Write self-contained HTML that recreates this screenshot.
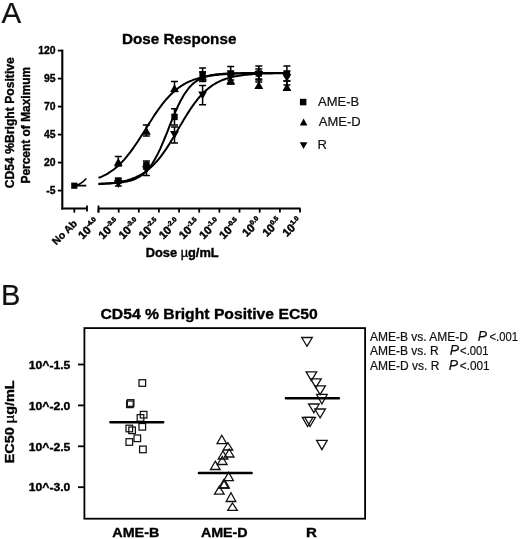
<!DOCTYPE html>
<html lang="en"><head><meta charset="utf-8"><title>Dose Response</title>
<style>html,body{margin:0;padding:0;background:#fff}body{width:520px;height:539px;overflow:hidden}svg text{font-family:"Liberation Sans",Arial,Helvetica,sans-serif}svg text{stroke:#111;stroke-width:.2px}svg text[font-weight=bold]{stroke:#000;stroke-width:.35px}</style>
</head><body>
<svg width="520" height="539" viewBox="0 0 520 539" style="display:block;filter:blur(0.45px)">
<rect width="520" height="539" fill="#fff"/>
<text x="1.5" y="23.2" font-size="29.5" fill="#111" stroke="#111" stroke-width="0.8">A</text>
<text x="0.9" y="305" font-size="29" fill="#111" stroke="#111" stroke-width="0.7">B</text>
<text x="122" y="44.2" font-size="15.5" font-weight="bold" textLength="114.4" lengthAdjust="spacingAndGlyphs">Dose Response</text>
<path d="M62.3 49.6V209.5" stroke="#000" stroke-width="2.1" fill="none"/>
<path d="M61.3 208.5H87M98 208.5H300.6" stroke="#000" stroke-width="2.1" fill="none"/>
<path d="M87 205.4V211.6M98.5 205.4V212.6" stroke="#000" stroke-width="1.8" fill="none"/>
<path d="M57.8 50.6H62" stroke="#000" stroke-width="1.8"/>
<text x="55.6" y="53.9" font-size="10.4" font-weight="bold" text-anchor="end">120</text>
<path d="M57.8 78.6H62" stroke="#000" stroke-width="1.8"/>
<text x="55.6" y="81.9" font-size="10.4" font-weight="bold" text-anchor="end">95</text>
<path d="M57.8 106.6H62" stroke="#000" stroke-width="1.8"/>
<text x="55.6" y="109.9" font-size="10.4" font-weight="bold" text-anchor="end">70</text>
<path d="M57.8 134.6H62" stroke="#000" stroke-width="1.8"/>
<text x="55.6" y="137.9" font-size="10.4" font-weight="bold" text-anchor="end">45</text>
<path d="M57.8 162.6H62" stroke="#000" stroke-width="1.8"/>
<text x="55.6" y="165.9" font-size="10.4" font-weight="bold" text-anchor="end">20</text>
<path d="M57.8 190.6H62" stroke="#000" stroke-width="1.8"/>
<text x="55.6" y="193.9" font-size="10.4" font-weight="bold" text-anchor="end">-5</text>
<path d="M74.3 208.5V212.6" stroke="#000" stroke-width="1.8"/>
<path d="M98.5 208.5V212.6" stroke="#000" stroke-width="1.8"/>
<text transform="translate(99.7,222.8) rotate(-45)" font-size="11.2" font-weight="bold" text-anchor="end" style="stroke-width:.5px">10<tspan font-size="6.6" dy="-4.6">-4.0</tspan></text>
<path d="M118.7 208.5V212.6" stroke="#000" stroke-width="1.8"/>
<text transform="translate(119.9,222.8) rotate(-45)" font-size="11.2" font-weight="bold" text-anchor="end" style="stroke-width:.5px">10<tspan font-size="6.6" dy="-4.6">-3.5</tspan></text>
<path d="M138.8 208.5V212.6" stroke="#000" stroke-width="1.8"/>
<text transform="translate(140.0,222.8) rotate(-45)" font-size="11.2" font-weight="bold" text-anchor="end" style="stroke-width:.5px">10<tspan font-size="6.6" dy="-4.6">-3.0</tspan></text>
<path d="M158.9 208.5V212.6" stroke="#000" stroke-width="1.8"/>
<text transform="translate(160.1,222.8) rotate(-45)" font-size="11.2" font-weight="bold" text-anchor="end" style="stroke-width:.5px">10<tspan font-size="6.6" dy="-4.6">-2.5</tspan></text>
<path d="M179.1 208.5V212.6" stroke="#000" stroke-width="1.8"/>
<text transform="translate(180.3,222.8) rotate(-45)" font-size="11.2" font-weight="bold" text-anchor="end" style="stroke-width:.5px">10<tspan font-size="6.6" dy="-4.6">-2.0</tspan></text>
<path d="M199.2 208.5V212.6" stroke="#000" stroke-width="1.8"/>
<text transform="translate(200.4,222.8) rotate(-45)" font-size="11.2" font-weight="bold" text-anchor="end" style="stroke-width:.5px">10<tspan font-size="6.6" dy="-4.6">-1.5</tspan></text>
<path d="M219.4 208.5V212.6" stroke="#000" stroke-width="1.8"/>
<text transform="translate(220.6,222.8) rotate(-45)" font-size="11.2" font-weight="bold" text-anchor="end" style="stroke-width:.5px">10<tspan font-size="6.6" dy="-4.6">-1.0</tspan></text>
<path d="M239.5 208.5V212.6" stroke="#000" stroke-width="1.8"/>
<text transform="translate(240.7,222.8) rotate(-45)" font-size="11.2" font-weight="bold" text-anchor="end" style="stroke-width:.5px">10<tspan font-size="6.6" dy="-4.6">-0.5</tspan></text>
<path d="M259.7 208.5V212.6" stroke="#000" stroke-width="1.8"/>
<text transform="translate(262.1,222.0) rotate(-45)" font-size="11.2" font-weight="bold" text-anchor="end" style="stroke-width:.5px">10<tspan font-size="6.6" dy="-4.6">0.0</tspan></text>
<path d="M279.9 208.5V212.6" stroke="#000" stroke-width="1.8"/>
<text transform="translate(282.2,222.0) rotate(-45)" font-size="11.2" font-weight="bold" text-anchor="end" style="stroke-width:.5px">10<tspan font-size="6.6" dy="-4.6">0.5</tspan></text>
<path d="M300.0 208.5V212.6" stroke="#000" stroke-width="1.8"/>
<text transform="translate(302.4,222.0) rotate(-45)" font-size="11.2" font-weight="bold" text-anchor="end" style="stroke-width:.5px">10<tspan font-size="6.6" dy="-4.6">1.0</tspan></text>
<text transform="translate(77.7,224.2) rotate(-45)" font-size="10.4" font-weight="bold" text-anchor="end">No Ab</text>
<text transform="translate(13.6,188.2) rotate(-90)" font-size="12" font-weight="bold" textLength="131" lengthAdjust="spacingAndGlyphs">CD54 %Bright Positive</text>
<text transform="translate(30.4,183.5) rotate(-90)" font-size="12" font-weight="bold" textLength="116.7" lengthAdjust="spacingAndGlyphs">Percent of Maximum</text>
<text x="145.7" y="257" font-size="12" font-weight="bold" textLength="73" lengthAdjust="spacingAndGlyphs">Dose <tspan font-weight="normal">µ</tspan>g/mL</text>
<polyline points="98.5,177.9 100.1,177.3 101.7,176.6 103.2,175.9 104.8,175.1 106.4,174.3 108.0,173.3 109.5,172.4 111.1,171.3 112.7,170.2 114.3,169.0 115.9,167.7 117.4,166.4 119.0,164.9 120.6,163.4 122.2,161.8 123.8,160.1 125.3,158.3 126.9,156.4 128.5,154.4 130.1,152.4 131.6,150.3 133.2,148.1 134.8,145.8 136.4,143.5 138.0,141.1 139.5,138.7 141.1,136.2 142.7,133.7 144.3,131.2 145.9,128.7 147.4,126.2 149.0,123.6 150.6,121.2 152.2,118.7 153.7,116.3 155.3,113.9 156.9,111.6 158.5,109.3 160.1,107.2 161.6,105.1 163.2,103.0 164.8,101.1 166.4,99.2 168.0,97.5 169.5,95.8 171.1,94.2 172.7,92.7 174.3,91.3 175.8,89.9 177.4,88.7 179.0,87.5 180.6,86.4 182.2,85.4 183.7,84.4 185.3,83.5 186.9,82.7 188.5,81.9 190.0,81.2 191.6,80.6 193.2,79.9 194.8,79.4 196.4,78.9 197.9,78.4 199.5,77.9 201.1,77.5 202.7,77.1 204.3,76.8 205.8,76.5 207.4,76.2 209.0,75.9 210.6,75.7 212.1,75.5 213.7,75.2 215.3,75.1 216.9,74.9 218.5,74.7 220.0,74.6 221.6,74.4 223.2,74.3 224.8,74.2 226.4,74.1 227.9,74.0 229.5,73.9 231.1,73.8 232.7,73.8 234.2,73.7 235.8,73.6 237.4,73.6 239.0,73.5 240.6,73.5 242.1,73.5 243.7,73.4 245.3,73.4 246.9,73.3 248.4,73.3 250.0,73.3 251.6,73.3 253.2,73.2 254.8,73.2 256.3,73.2 257.9,73.2 259.5,73.2 261.1,73.2 262.7,73.1 264.2,73.1 265.8,73.1 267.4,73.1 269.0,73.1 270.5,73.1 272.1,73.1 273.7,73.1 275.3,73.1 276.9,73.1 278.4,73.1 280.0,73.1 281.6,73.0 283.2,73.0 284.8,73.0 286.3,73.0 287.9,73.0" fill="none" stroke="#000" stroke-width="2" stroke-linejoin="round"/>
<polyline points="98.5,183.7 100.1,183.7 101.7,183.6 103.2,183.6 104.8,183.6 106.4,183.5 108.0,183.4 109.5,183.4 111.1,183.3 112.7,183.2 114.3,183.1 115.9,183.0 117.4,182.9 119.0,182.7 120.6,182.5 122.2,182.3 123.8,182.1 125.3,181.8 126.9,181.5 128.5,181.1 130.1,180.7 131.6,180.2 133.2,179.7 134.8,179.1 136.4,178.4 138.0,177.5 139.5,176.6 141.1,175.6 142.7,174.4 144.3,173.1 145.9,171.6 147.4,169.9 149.0,168.1 150.6,166.0 152.2,163.7 153.7,161.2 155.3,158.5 156.9,155.6 158.5,152.4 160.1,149.1 161.6,145.6 163.2,141.9 164.8,138.0 166.4,134.1 168.0,130.1 169.5,126.1 171.1,122.2 172.7,118.3 174.3,114.5 175.8,110.8 177.4,107.3 179.0,104.0 180.6,100.8 182.2,97.9 183.7,95.3 185.3,92.8 186.9,90.6 188.5,88.5 190.0,86.7 191.6,85.1 193.2,83.6 194.8,82.3 196.4,81.1 197.9,80.1 199.5,79.2 201.1,78.4 202.7,77.7 204.3,77.1 205.8,76.6 207.4,76.1 209.0,75.7 210.6,75.3 212.1,75.0 213.7,74.8 215.3,74.5 216.9,74.3 218.5,74.2 220.0,74.0 221.6,73.9 223.2,73.8 224.8,73.7 226.4,73.6 227.9,73.5 229.5,73.4 231.1,73.4 232.7,73.3 234.2,73.3 235.8,73.2 237.4,73.2 239.0,73.2 240.6,73.2 242.1,73.1 243.7,73.1 245.3,73.1 246.9,73.1 248.4,73.1 250.0,73.1 251.6,73.1 253.2,73.0 254.8,73.0 256.3,73.0 257.9,73.0 259.5,73.0 261.1,73.0 262.7,73.0 264.2,73.0 265.8,73.0 267.4,73.0 269.0,73.0 270.5,73.0 272.1,73.0 273.7,73.0 275.3,73.0 276.9,73.0 278.4,73.0 280.0,73.0 281.6,73.0 283.2,73.0 284.8,73.0 286.3,73.0 287.9,73.0" fill="none" stroke="#000" stroke-width="2" stroke-linejoin="round"/>
<polyline points="98.5,184.2 100.1,184.1 101.7,184.0 103.2,183.9 104.8,183.8 106.4,183.6 108.0,183.5 109.5,183.3 111.1,183.2 112.7,183.0 114.3,182.8 115.9,182.6 117.4,182.4 119.0,182.1 120.6,181.8 122.2,181.5 123.8,181.1 125.3,180.8 126.9,180.4 128.5,179.9 130.1,179.4 131.6,178.9 133.2,178.3 134.8,177.7 136.4,177.0 138.0,176.2 139.5,175.4 141.1,174.5 142.7,173.6 144.3,172.6 145.9,171.5 147.4,170.3 149.0,169.0 150.6,167.6 152.2,166.1 153.7,164.6 155.3,162.9 156.9,161.2 158.5,159.3 160.1,157.3 161.6,155.3 163.2,153.1 164.8,150.9 166.4,148.6 168.0,146.1 169.5,143.7 171.1,141.1 172.7,138.5 174.3,135.9 175.8,133.2 177.4,130.5 179.0,127.8 180.6,125.1 182.2,122.4 183.7,119.8 185.3,117.2 186.9,114.6 188.5,112.1 190.0,109.7 191.6,107.4 193.2,105.1 194.8,102.9 196.4,100.9 197.9,98.9 199.5,97.0 201.1,95.3 202.7,93.6 204.3,92.0 205.8,90.5 207.4,89.2 209.0,87.9 210.6,86.7 212.1,85.6 213.7,84.5 215.3,83.6 216.9,82.7 218.5,81.9 220.0,81.1 221.6,80.4 223.2,79.8 224.8,79.2 226.4,78.6 227.9,78.1 229.5,77.7 231.1,77.3 232.7,76.9 234.2,76.5 235.8,76.2 237.4,75.9 239.0,75.7 240.6,75.4 242.1,75.2 243.7,75.0 245.3,74.8 246.9,74.7 248.4,74.5 250.0,74.4 251.6,74.3 253.2,74.1 254.8,74.0 256.3,73.9 257.9,73.9 259.5,73.8 261.1,73.7 262.7,73.6 264.2,73.6 265.8,73.5 267.4,73.5 269.0,73.4 270.5,73.4 272.1,73.4 273.7,73.3 275.3,73.3 276.9,73.3 278.4,73.2 280.0,73.2 281.6,73.2 283.2,73.2 284.8,73.2 286.3,73.2 287.9,73.1" fill="none" stroke="#000" stroke-width="2" stroke-linejoin="round"/>
<path d="M74 185.6H86.3M74 185.8Q81 184.5 86.3 178.4" stroke="#000" stroke-width="1.6" fill="none"/>
<rect x="71.2" y="182.6" width="6.2" height="6.2" fill="#000"/>
<path d="M118.3 156.6V166.0M114.8 156.6h7.0M114.8 166.0h7.0" stroke="#000" stroke-width="1.5" fill="none"/>
<polygon points="118.3,157.9 122.7,165.7 113.9,165.7" fill="#000"/>
<path d="M146.4 125.0V136.0M142.9 125.0h7.0M142.9 136.0h7.0" stroke="#000" stroke-width="1.5" fill="none"/>
<polygon points="146.4,127.0 150.8,134.8 142.0,134.8" fill="#000"/>
<path d="M174.5 81.6V91.6M171.0 81.6h7.0M171.0 91.6h7.0" stroke="#000" stroke-width="1.5" fill="none"/>
<polygon points="174.5,84.3 178.9,92.1 170.1,92.1" fill="#000"/>
<path d="M202.6 72.0V81.0M199.1 72.0h7.0M199.1 81.0h7.0" stroke="#000" stroke-width="1.5" fill="none"/>
<polygon points="202.6,72.6 207.0,80.4 198.2,80.4" fill="#000"/>
<path d="M230.7 75.0V84.0M227.2 75.0h7.0M227.2 84.0h7.0" stroke="#000" stroke-width="1.5" fill="none"/>
<polygon points="230.7,76.6 235.1,84.4 226.3,84.4" fill="#000"/>
<path d="M258.8 79.0V88.0M255.3 79.0h7.0M255.3 88.0h7.0" stroke="#000" stroke-width="1.5" fill="none"/>
<polygon points="258.8,81.1 263.2,88.9 254.4,88.9" fill="#000"/>
<path d="M286.9 81.0V90.0M283.4 81.0h7.0M283.4 90.0h7.0" stroke="#000" stroke-width="1.5" fill="none"/>
<polygon points="286.9,83.1 291.3,90.9 282.5,90.9" fill="#000"/>
<path d="M118.3 178.5V182.5M114.8 178.5h7.0M114.8 182.5h7.0" stroke="#000" stroke-width="1.5" fill="none"/>
<rect x="115.1" y="177.4" width="6.4" height="6.4" fill="#000"/>
<path d="M146.4 161.0V169.0M142.9 161.0h7.0M142.9 169.0h7.0" stroke="#000" stroke-width="1.5" fill="none"/>
<rect x="143.2" y="161.8" width="6.4" height="6.4" fill="#000"/>
<path d="M174.5 108.8V125.0M171.0 108.8h7.0M171.0 125.0h7.0" stroke="#000" stroke-width="1.5" fill="none"/>
<rect x="171.3" y="113.7" width="6.4" height="6.4" fill="#000"/>
<path d="M202.6 68.0V81.5M199.1 68.0h7.0M199.1 81.5h7.0" stroke="#000" stroke-width="1.5" fill="none"/>
<rect x="199.4" y="71.2" width="6.4" height="6.4" fill="#000"/>
<path d="M230.7 66.5V80.0M227.2 66.5h7.0M227.2 80.0h7.0" stroke="#000" stroke-width="1.5" fill="none"/>
<rect x="227.5" y="70.8" width="6.4" height="6.4" fill="#000"/>
<path d="M258.8 66.0V80.0M255.3 66.0h7.0M255.3 80.0h7.0" stroke="#000" stroke-width="1.5" fill="none"/>
<rect x="255.6" y="70.3" width="6.4" height="6.4" fill="#000"/>
<path d="M286.9 66.0V81.0M283.4 66.0h7.0M283.4 81.0h7.0" stroke="#000" stroke-width="1.5" fill="none"/>
<rect x="283.7" y="70.8" width="6.4" height="6.4" fill="#000"/>
<path d="M118.3 182.0V186.0M114.8 182.0h7.0M114.8 186.0h7.0" stroke="#000" stroke-width="1.5" fill="none"/>
<polygon points="118.3,187.9 122.7,180.1 113.9,180.1" fill="#000"/>
<path d="M146.4 165.0V175.5M142.9 165.0h7.0M142.9 175.5h7.0" stroke="#000" stroke-width="1.5" fill="none"/>
<polygon points="146.4,173.9 150.8,166.1 142.0,166.1" fill="#000"/>
<path d="M174.5 127.0V143.0M171.0 127.0h7.0M171.0 143.0h7.0" stroke="#000" stroke-width="1.5" fill="none"/>
<polygon points="174.5,138.9 178.9,131.1 170.1,131.1" fill="#000"/>
<path d="M202.6 85.4V104.8M199.1 85.4h7.0M199.1 104.8h7.0" stroke="#000" stroke-width="1.5" fill="none"/>
<polygon points="202.6,99.3 207.0,91.5 198.2,91.5" fill="#000"/>
<path d="M230.7 71.0V83.0M227.2 71.0h7.0M227.2 83.0h7.0" stroke="#000" stroke-width="1.5" fill="none"/>
<polygon points="230.7,80.9 235.1,73.1 226.3,73.1" fill="#000"/>
<path d="M258.8 69.0V82.0M255.3 69.0h7.0M255.3 82.0h7.0" stroke="#000" stroke-width="1.5" fill="none"/>
<polygon points="258.8,78.9 263.2,71.1 254.4,71.1" fill="#000"/>
<path d="M286.9 71.0V85.0M283.4 71.0h7.0M283.4 85.0h7.0" stroke="#000" stroke-width="1.5" fill="none"/>
<polygon points="286.9,81.9 291.3,74.1 282.5,74.1" fill="#000"/>
<rect x="299.9" y="98.8" width="6.5" height="6.5" fill="#000"/>
<polygon points="303.6,118.6 307.4,125.4 299.8,125.4" fill="#000"/>
<polygon points="303.6,149.0 307.4,142.2 299.8,142.2" fill="#000"/>
<text x="318" y="106.2" font-size="13" fill="#111">AME-B</text>
<text x="318.8" y="126.4" font-size="13" fill="#111">AME-D</text>
<text x="317.6" y="149.2" font-size="13" fill="#111">R</text>
<text x="100.5" y="319.3" font-size="15" font-weight="bold" textLength="217.2" lengthAdjust="spacingAndGlyphs">CD54 % Bright Positive EC50</text>
<rect x="84.4" y="328.1" width="280.7" height="190.6" fill="none" stroke="#000" stroke-width="1.8"/>
<path d="M78 364.5H84" stroke="#000" stroke-width="1.8"/>
<text x="28.8" y="368.7" font-size="10.6" font-weight="bold" textLength="41.6" lengthAdjust="spacingAndGlyphs">10^-1.5</text>
<path d="M78 405.4H84" stroke="#000" stroke-width="1.8"/>
<text x="28.8" y="409.6" font-size="10.6" font-weight="bold" textLength="41.6" lengthAdjust="spacingAndGlyphs">10^-2.0</text>
<path d="M78 446.3H84" stroke="#000" stroke-width="1.8"/>
<text x="28.8" y="450.5" font-size="10.6" font-weight="bold" textLength="41.6" lengthAdjust="spacingAndGlyphs">10^-2.5</text>
<path d="M78 487.2H84" stroke="#000" stroke-width="1.8"/>
<text x="28.8" y="491.4" font-size="10.6" font-weight="bold" textLength="41.6" lengthAdjust="spacingAndGlyphs">10^-3.0</text>
<text transform="translate(13.8,463.3) rotate(-90)" font-size="13" font-weight="bold" textLength="83" lengthAdjust="spacingAndGlyphs">EC50 <tspan font-weight="normal">µ</tspan>g/mL</text>
<text x="112.3" y="537" font-size="13" font-weight="bold" textLength="47" lengthAdjust="spacingAndGlyphs">AME-B</text>
<text x="200.9" y="537" font-size="13" font-weight="bold" textLength="46.8" lengthAdjust="spacingAndGlyphs">AME-D</text>
<text x="306" y="537.2" font-size="13.4" font-weight="bold" textLength="10.9" lengthAdjust="spacingAndGlyphs">R</text>
<rect x="139.0" y="379.7" width="6.6" height="6.6" fill="none" stroke="#111" stroke-width="1.25"/>
<rect x="127.3" y="399.7" width="6.6" height="6.6" fill="none" stroke="#111" stroke-width="1.25"/>
<rect x="126.6" y="401.0" width="6.6" height="6.6" fill="none" stroke="#111" stroke-width="1.25"/>
<rect x="140.3" y="411.4" width="6.6" height="6.6" fill="none" stroke="#111" stroke-width="1.25"/>
<rect x="137.2" y="414.6" width="6.6" height="6.6" fill="none" stroke="#111" stroke-width="1.25"/>
<rect x="139.0" y="423.5" width="6.6" height="6.6" fill="none" stroke="#111" stroke-width="1.25"/>
<rect x="126.0" y="425.2" width="6.6" height="6.6" fill="none" stroke="#111" stroke-width="1.25"/>
<rect x="128.8" y="427.0" width="6.6" height="6.6" fill="none" stroke="#111" stroke-width="1.25"/>
<rect x="134.0" y="435.0" width="6.6" height="6.6" fill="none" stroke="#111" stroke-width="1.25"/>
<rect x="126.0" y="438.7" width="6.6" height="6.6" fill="none" stroke="#111" stroke-width="1.25"/>
<rect x="139.6" y="446.1" width="6.6" height="6.6" fill="none" stroke="#111" stroke-width="1.25"/>
<polygon points="221.8,435.2 226.6,443.6 217.0,443.6" fill="none" stroke="#111" stroke-width="1.3" stroke-linejoin="miter"/>
<polygon points="227.9,442.6 232.7,450.0 223.1,450.0" fill="none" stroke="#111" stroke-width="1.3" stroke-linejoin="miter"/>
<polygon points="229.2,449.0 234.0,457.0 224.4,457.0" fill="none" stroke="#111" stroke-width="1.3" stroke-linejoin="miter"/>
<polygon points="223.0,451.0 227.8,459.0 218.2,459.0" fill="none" stroke="#111" stroke-width="1.3" stroke-linejoin="miter"/>
<polygon points="222.3,456.5 227.1,464.5 217.5,464.5" fill="none" stroke="#111" stroke-width="1.3" stroke-linejoin="miter"/>
<polygon points="215.3,461.2 220.1,469.5 210.5,469.5" fill="none" stroke="#111" stroke-width="1.3" stroke-linejoin="miter"/>
<polygon points="228.6,472.3 233.4,480.7 223.8,480.7" fill="none" stroke="#111" stroke-width="1.3" stroke-linejoin="miter"/>
<polygon points="223.6,479.7 228.4,488.0 218.8,488.0" fill="none" stroke="#111" stroke-width="1.3" stroke-linejoin="miter"/>
<polygon points="224.5,479.7 229.3,488.0 219.7,488.0" fill="none" stroke="#111" stroke-width="1.3" stroke-linejoin="miter"/>
<polygon points="219.3,486.2 224.1,494.2 214.5,494.2" fill="none" stroke="#111" stroke-width="1.3" stroke-linejoin="miter"/>
<polygon points="231.0,492.7 235.8,501.5 226.2,501.5" fill="none" stroke="#111" stroke-width="1.3" stroke-linejoin="miter"/>
<polygon points="232.5,503.0 237.3,510.4 227.7,510.4" fill="none" stroke="#111" stroke-width="1.3" stroke-linejoin="miter"/>
<polygon points="307.0,346.3 312.3,337.5 301.7,337.5" fill="none" stroke="#111" stroke-width="1.3" stroke-linejoin="miter"/>
<polygon points="311.4,380.7 316.7,371.9 306.1,371.9" fill="none" stroke="#111" stroke-width="1.3" stroke-linejoin="miter"/>
<polygon points="315.9,387.7 321.2,378.9 310.6,378.9" fill="none" stroke="#111" stroke-width="1.3" stroke-linejoin="miter"/>
<polygon points="320.1,394.7 325.4,385.9 314.8,385.9" fill="none" stroke="#111" stroke-width="1.3" stroke-linejoin="miter"/>
<polygon points="321.9,404.0 327.2,394.4 316.6,394.4" fill="none" stroke="#111" stroke-width="1.3" stroke-linejoin="miter"/>
<polygon points="313.9,412.7 319.2,404.0 308.6,404.0" fill="none" stroke="#111" stroke-width="1.3" stroke-linejoin="miter"/>
<polygon points="320.1,417.8 325.4,409.0 314.8,409.0" fill="none" stroke="#111" stroke-width="1.3" stroke-linejoin="miter"/>
<polygon points="307.6,426.5 312.9,417.3 302.3,417.3" fill="none" stroke="#111" stroke-width="1.3" stroke-linejoin="miter"/>
<polygon points="310.1,426.5 315.4,417.3 304.8,417.3" fill="none" stroke="#111" stroke-width="1.3" stroke-linejoin="miter"/>
<polygon points="321.9,449.6 327.2,440.3 316.6,440.3" fill="none" stroke="#111" stroke-width="1.3" stroke-linejoin="miter"/>
<path d="M110.4 422.3H163.2M198.9 472.9H251.6M285.9 398.2H338.9" stroke="#000" stroke-width="2.5" stroke-linecap="round"/>
<text x="370" y="341.2" font-size="12" fill="#111">AME-B vs. AME-D</text>
<text x="370" y="355" font-size="12" fill="#111">AME-B vs. R</text>
<text x="370" y="369.6" font-size="12" fill="#111">AME-D vs. R</text>
<text x="477.8" y="341" font-size="14" font-style="italic" fill="#111">P</text><text x="489.5" y="340.8" font-size="12" fill="#111" textLength="28.4" lengthAdjust="spacingAndGlyphs">&lt;.001</text>
<text x="449.8" y="355" font-size="14" font-style="italic" fill="#111">P</text><text x="460.1" y="355.2" font-size="12" fill="#111" textLength="28.4" lengthAdjust="spacingAndGlyphs">&lt;.001</text>
<text x="448.8" y="369.6" font-size="14" font-style="italic" fill="#111">P</text><text x="459.8" y="370" font-size="12" fill="#111" textLength="29.8" lengthAdjust="spacingAndGlyphs">&lt;.001</text>
</svg>
</body></html>
